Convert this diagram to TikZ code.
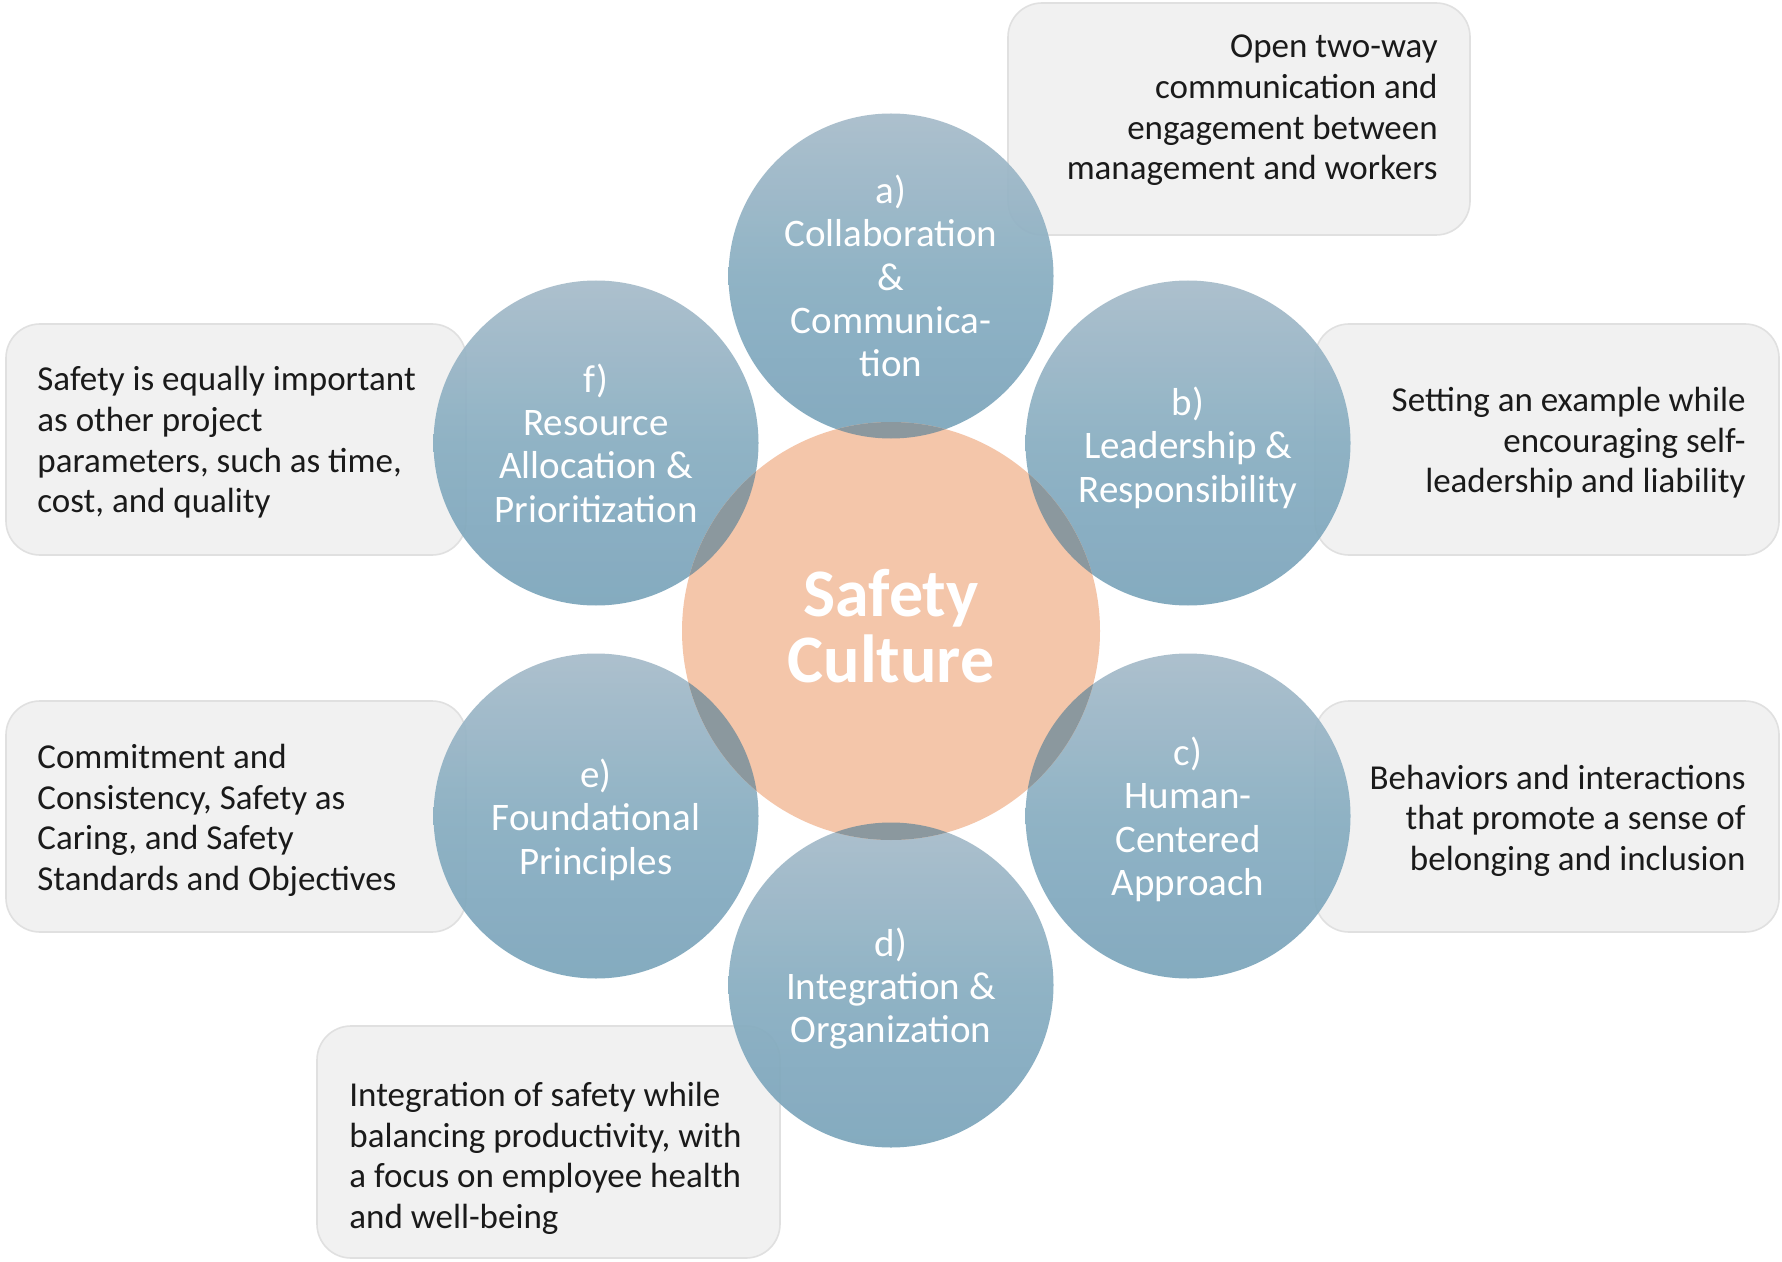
\documentclass[tikz,border=0pt]{standalone}
\usepackage{fontspec}
\setmainfont{Carlito}
\definecolor{boxfill}{RGB}{241,241,241}
\definecolor{boxline}{RGB}{224,224,224}
\definecolor{btop}{RGB}{166,187,201}
\definecolor{bmid}{RGB}{135,173,193}
\definecolor{bbot}{RGB}{122,164,186}
\definecolor{salmon}{RGB}{244,198,170}
\definecolor{lens}{RGB}{139,152,158}
\definecolor{ink}{RGB}{26,26,26}
\begin{document}
\begin{tikzpicture}[x=0.5pt,y=-0.5pt,
  infobox/.style={draw=boxline, line width=0.8pt, fill=boxfill, rounded corners=17pt, inner sep=0pt},
  infotext/.style={text=ink, inner sep=0pt, font=\fontsize{17.5}{20.3}\selectfont},
  petal/.style={circle, inner sep=0pt, minimum size=162.5pt, top color=btop, bottom color=bbot, middle color=bmid,
    fill opacity=0.92},
  petaltext/.style={text=white, inner sep=0pt, align=center, font=\fontsize{19.5}{21.7}\selectfont},
  core/.style={circle, inner sep=0pt, minimum size=209pt, fill=salmon}]
\useasboundingbox (0,0) rectangle (1782,1262);
\fill[white] (0,0) rectangle (1782,1262);
% boxes
\node[infobox, minimum width=231pt, minimum height=116pt] (boxA) at (1239,119) {};
\node[infobox, minimum width=232pt, minimum height=115.5pt] (boxB) at (1547,439.5) {};
\node[infobox, minimum width=232pt, minimum height=115.5pt] (boxC) at (1547,816.5) {};
\node[infobox, minimum width=231.5pt, minimum height=116pt] (boxD) at (548.5,1142) {};
\node[infobox, minimum width=230pt, minimum height=115.5pt] (boxE) at (236,816.5) {};
\node[infobox, minimum width=230pt, minimum height=115.5pt] (boxF) at (236,439.5) {};
% box texts
\node[infotext, anchor=east, align=right] (tA) at (1438,110.5) {Open two-way\\communication and\\engagement between\\management and workers};
\node[infotext, anchor=east, align=right] (tB) at (1746,443) {Setting an example while\\encouraging self-\\leadership and liability};
\node[infotext, anchor=east, align=right] (tC) at (1746,820.5) {Behaviors and interactions\\that promote a sense of\\belonging and inclusion};
\node[infotext, anchor=west, align=left] (tD) at (349,1158.5) {Integration of safety while\\balancing productivity, with\\a focus on employee health\\and well-being};
\node[infotext, anchor=west, align=left] (tE) at (37,820.5) {Commitment and\\Consistency, Safety as\\Caring, and Safety\\Standards and Objectives};
\node[infotext, anchor=west, align=left] (tF) at (37,442.5) {Safety is equally important\\as other project\\parameters, such as time,\\cost, and quality};
% petals
\node[petal] (a) at (891,276) {};
\node[petal] (b) at (1188,443) {};
\node[petal] (c) at (1188,816) {};
\node[petal] (d) at (891,985) {};
\node[petal] (e) at (596,816) {};
\node[petal] (f) at (596,443) {};
% core
\node[core] (sc) at (891,631) {};
\begin{scope}
  \clip (sc.center) circle[radius=104.5pt];
  \foreach \p in {a,b,c,d,e,f} { \fill[lens] (\p.center) circle[radius=81.25pt]; }
\end{scope}
% petal texts
\node[petaltext] (la) at (891,276) {a)\\Collaboration\\\&\\Communica-\\tion};
\node[petaltext] (lb) at (1188,447.5) {b)\\Leadership \&\\Responsibility};
\node[petaltext] (lc) at (1188,819.5) {c)\\Human-\\Centered\\Approach};
\node[petaltext] (ld) at (891,988.5) {d)\\Integration \&\\Organization};
\node[petaltext] (le) at (596,819.5) {e)\\Foundational\\Principles};
\node[petaltext] (lf) at (596,443) {f)\\Resource\\Allocation \&\\Prioritization};
\node[text=white, align=center, inner sep=0pt, font=\fontsize{34}{33}\selectfont\bfseries] (title) at (891,626) {Safety\\Culture};
\end{tikzpicture}
\end{document}
